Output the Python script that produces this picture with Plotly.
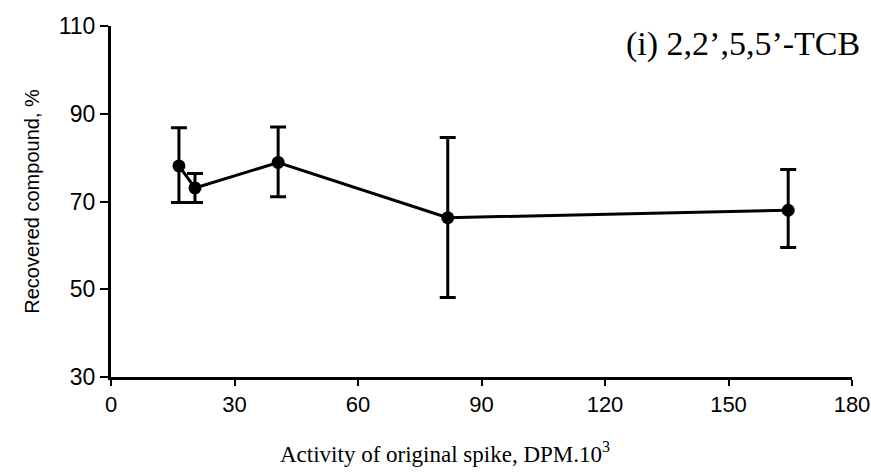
import plotly.graph_objects as go

activity = [16.5, 20.4, 40.6, 81.8, 164.5]
recovered = [78.1, 73.1, 78.9, 66.3, 68.0]
upper = [86.8, 76.4, 87.0, 84.6, 77.3]
lower = [69.8, 69.8, 71.1, 48.1, 59.5]

x_ticks = [0, 30, 60, 90, 120, 150, 180]
y_ticks = [30, 50, 70, 90, 110]

err_plus = [u - v for u, v in zip(upper, recovered)]
err_minus = [v - l for v, l in zip(recovered, lower)]

fig = go.Figure()
fig.add_trace(go.Scatter(
    x=activity, y=recovered, mode="lines+markers",
    line=dict(color="black", width=3),
    marker=dict(color="black", size=13),
    error_y=dict(type="data", symmetric=False, array=err_plus, arrayminus=err_minus,
                 color="black", thickness=3, width=8),
    showlegend=False,
))

fig.update_layout(
    width=871, height=476,
    margin=dict(l=111, r=19, t=26, b=99, autoexpand=False),
    plot_bgcolor="white", paper_bgcolor="white",
    xaxis=dict(range=[0, 180], tickvals=x_ticks, showline=True, linecolor="black", linewidth=3,
               ticks="outside", ticklen=6, tickwidth=2, tickcolor="black", showgrid=False, zeroline=False,
               automargin=False, ticklabeloverflow="allow",
               tickfont=dict(family="Liberation Sans", size=22, color="black")),
    yaxis=dict(range=[30, 110], tickvals=y_ticks, showline=True, linecolor="black", linewidth=3,
               ticks="outside", ticklen=8, tickwidth=2, tickcolor="black", showgrid=False, zeroline=False,
               automargin=False, ticklabeloverflow="allow",
               tickfont=dict(family="Liberation Sans", size=23, color="black"),
               title=dict(text="Recovered compound, %",
                          font=dict(family="Liberation Sans", size=20, color="black"), standoff=14)),
    annotations=[
        dict(text="(i) 2,2\u2019,5,5\u2019-TCB", x=1.0, y=1.0, xref="paper", yref="paper",
             xanchor="right", yanchor="top", yshift=3, xshift=10, showarrow=False,
             font=dict(family="Liberation Serif", size=34, color="black")),
        dict(text="Activity of original spike, DPM.10<sup>3</sup>",
             x=(445 - 111) / (852 - 111), xref="paper", y=0, yref="paper", yanchor="middle",
             yshift=-75, showarrow=False,
             font=dict(family="Liberation Serif", size=23, color="black")),
    ],
)

fig.write_html("out.html")
